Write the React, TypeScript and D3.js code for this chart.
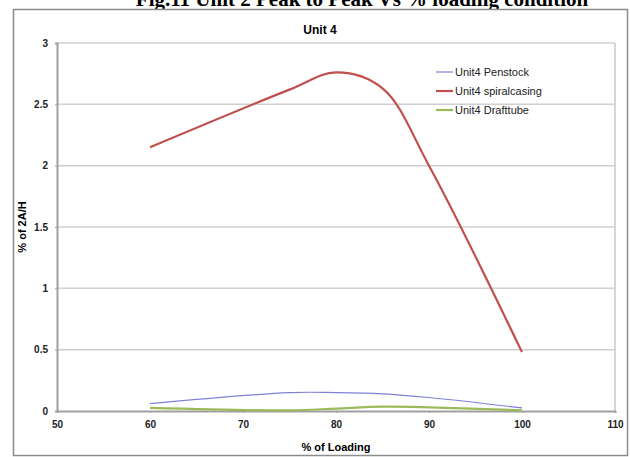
import * as d3 from "d3";
import { useEffect, useRef } from "react";

const loading = [60, 75, 80, 85, 90, 100];
const penstock = [0.06, 0.15, 0.15, 0.14, 0.11, 0.025];
const spiralcasing = [2.15, 2.62, 2.76, 2.63, 2.0, 0.48];
const drafttube = [0.025, 0.005, 0.02, 0.035, 0.03, 0.005];

const xTicks = [50, 60, 70, 80, 90, 100, 110];
const yTicks = [0, 0.5, 1, 1.5, 2, 2.5, 3];

const series = [
  { name: "Unit4 Penstock", values: penstock, color: "#8080d8", width: 1.2 },
  { name: "Unit4 spiralcasing", values: spiralcasing, color: "#c0504d", width: 2.2 },
  { name: "Unit4 Drafttube", values: drafttube, color: "#9bbb59", width: 2.2 }
];

const W = 630;
const H = 457;
const plot = { left: 57, right: 615, top: 43, bottom: 411 };

const App = () => {
  const ref = useRef<SVGSVGElement>(null);

  useEffect(() => {
    const svg = d3.select(ref.current);
    svg.selectAll("*").remove();

    const x = d3.scaleLinear().domain([50, 110]).range([plot.left, plot.right]);
    const y = d3.scaleLinear().domain([0, 3]).range([plot.bottom, plot.top]);

    svg.append("rect").attr("width", W).attr("height", H).attr("fill", "#fff");

    // cut-off figure caption
    svg
      .append("text")
      .attr("x", 362)
      .attr("y", 6)
      .attr("text-anchor", "middle")
      .attr("font-family", "Liberation Serif, serif")
      .attr("font-weight", "bold")
      .attr("font-size", 21)
      .text("Fig.11 Unit 2 Peak to Peak Vs % loading condition");

    // chart frame
    svg
      .append("rect")
      .attr("x", 13.5)
      .attr("y", 9.5)
      .attr("width", 614)
      .attr("height", 446)
      .attr("fill", "#fff")
      .attr("stroke", "#8c8c8c")
      .attr("stroke-width", 1.5);

    svg
      .append("text")
      .attr("x", 320)
      .attr("y", 34)
      .attr("text-anchor", "middle")
      .attr("font-family", "Liberation Sans, Arial, sans-serif")
      .attr("font-weight", "bold")
      .attr("font-size", 12)
      .text("Unit 4");

    // gridlines
    svg
      .append("g")
      .selectAll("line")
      .data(yTicks.filter(t => t > 0))
      .enter()
      .append("line")
      .attr("x1", plot.left)
      .attr("x2", plot.right)
      .attr("y1", d => y(d))
      .attr("y2", d => y(d))
      .attr("stroke", "#d0d0d0")
      .attr("stroke-width", 1.5);

    // plot border
    svg
      .append("line")
      .attr("x1", plot.right)
      .attr("x2", plot.right)
      .attr("y1", plot.top)
      .attr("y2", plot.bottom)
      .attr("stroke", "#c8c8c8")
      .attr("stroke-width", 1.5);

    const yAxis = d3.axisLeft(y).tickValues(yTicks).tickSize(2).tickFormat(d => String(d));
    const gy = svg.append("g").attr("transform", `translate(${plot.left},0)`).call(yAxis);
    gy.select(".domain").attr("stroke", "#a0a0a0").attr("stroke-width", 2);
    gy.selectAll(".tick line").attr("stroke", "#a0a0a0");
    gy.selectAll("text")
      .attr("x", -9)
      .attr("font-family", "Liberation Sans, Arial, sans-serif")
      .attr("font-weight", "bold")
      .attr("font-size", 10)
      .attr("fill", "#222");

    const xAxis = d3.axisBottom(x).tickValues(xTicks).tickSize(2).tickFormat(d => String(d));
    const gx = svg.append("g").attr("transform", `translate(0,${plot.bottom})`).call(xAxis);
    gx.select(".domain").attr("stroke", "#a0a0a0").attr("stroke-width", 2);
    gx.selectAll(".tick line").attr("stroke", "#a0a0a0");
    gx.selectAll("text")
      .attr("y", 10)
      .attr("font-family", "Liberation Sans, Arial, sans-serif")
      .attr("font-weight", "bold")
      .attr("font-size", 10)
      .attr("fill", "#222");

    svg
      .append("text")
      .attr("x", 336)
      .attr("y", 451)
      .attr("text-anchor", "middle")
      .attr("font-family", "Liberation Sans, Arial, sans-serif")
      .attr("font-weight", "bold")
      .attr("font-size", 11)
      .text("% of Loading");

    svg
      .append("text")
      .attr("transform", `translate(26,${(plot.top + plot.bottom) / 2}) rotate(-90)`)
      .attr("text-anchor", "middle")
      .attr("font-family", "Liberation Sans, Arial, sans-serif")
      .attr("font-weight", "bold")
      .attr("font-size", 11)
      .text("% of 2A/H");

    const line = d3
      .line<number>()
      .x((d, i) => x(loading[i]))
      .y(d => y(d))
      .curve(d3.curveCatmullRom.alpha(0.5));

    series.forEach(s => {
      svg
        .append("path")
        .attr("d", line(s.values))
        .attr("fill", "none")
        .attr("stroke", s.color)
        .attr("stroke-width", s.width);
    });

    const legend = svg.append("g").attr("transform", "translate(436,72)");
    series.forEach((s, i) => {
      const g = legend.append("g").attr("transform", `translate(0,${i * 19})`);
      g.append("line")
        .attr("x1", 0)
        .attr("x2", 17)
        .attr("stroke", s.color)
        .attr("stroke-width", s.width);
      g.append("text")
        .attr("x", 19)
        .attr("y", 4)
        .attr("font-family", "Liberation Sans, Arial, sans-serif")
        .attr("font-size", 11)
        .attr("fill", "#222")
        .text(s.name);
    });
  }, []);

  return (
    <svg
      ref={ref}
      width={W}
      height={H}
      style={{ position: "absolute", left: 0, top: 0, display: "block" }}
    />
  );
};

export default App;
